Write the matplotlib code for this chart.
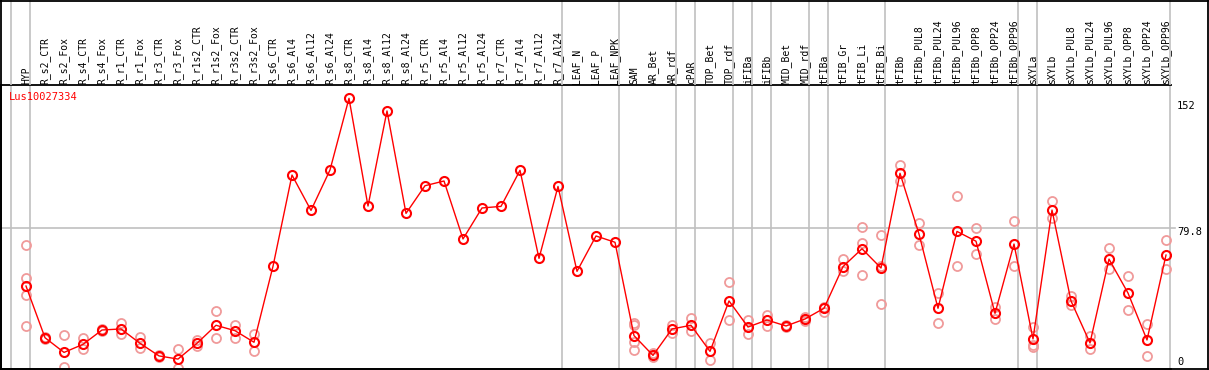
import matplotlib
matplotlib.use("Agg")
import matplotlib.pyplot as plt
from matplotlib.lines import Line2D
import matplotlib.transforms as mtransforms

# ---------------- data ----------------
gene = "Lus10027334"

categories = [
    "HYP", "R_s2_CTR", "R_s2_Fox", "R_s4_CTR", "R_s4_Fox", "R_r1_CTR", "R_r1_Fox",
    "R_r3_CTR", "R_r3_Fox", "R_r1s2_CTR", "R_r1s2_Fox", "R_r3s2_CTR", "R_r3s2_Fox",
    "R_s6_CTR", "R_s6_Al4", "R_s6_Al12", "R_s6_Al24", "R_s8_CTR", "R_s8_Al4",
    "R_s8_Al12", "R_s8_Al24", "R_r5_CTR", "R_r5_Al4", "R_r5_Al12", "R_r5_Al24",
    "R_r7_CTR", "R_r7_Al4", "R_r7_Al12", "R_r7_Al24", "LEAF_N", "LEAF_P", "LEAF_NPK",
    "SAM", "AR_Bet", "AR_rdf", "cPAR", "TOP_Bet", "TOP_rdf", "iFIBa", "iFIBb",
    "MID_Bet", "MID_rdf", "tFIBa", "tFIB_Gr", "tFIB_Li", "tFIB_Bi", "tFIBb",
    "tFIBb_PUL8", "tFIBb_PUL24", "tFIBb_PUL96", "tFIBb_OPP8", "tFIBb_OPP24",
    "tFIBb_OPP96", "sXYLa", "sXYLb", "sXYLb_PUL8", "sXYLb_PUL24", "sXYLb_PUL96",
    "sXYLb_OPP8", "sXYLb_OPP24", "sXYLb_OPP96",
]

# sizes of the sample groups separated by vertical lines
group_sizes = [1, 28, 3, 3, 1, 2, 1, 1, 2, 1, 3, 7, 1, 7]

mean_values = [
    46.8, 17.3, 8.9, 13.5, 21.7, 22.3, 14.1, 6.9, 5.1, 14.1, 24.4, 21.3, 14.7,
    58.1, 110.2, 90.0, 113.1, 154.0, 92.5, 146.8, 88.3, 104.1, 106.8, 73.7, 91.4,
    92.3, 112.9, 62.6, 103.7, 55.2, 75.4, 71.8,
    18.5, 7.2, 22.3, 24.4, 9.5, 38.3, 23.4, 27.4, 24.0, 28.0, 34.1, 57.9, 68.1,
    57.1, 111.2, 76.5, 34.1, 78.0, 72.4, 31.2, 70.8, 16.6, 90.2, 38.3, 14.3, 62.2,
    42.8, 16.0, 64.5,
]

replicates = [
    [70.2, 51.2, 41.7, 24.0],
    [17.6, 16.8],
    [18.7, 0.3],
    [17.1, 10.7],
    [22.0, 21.3],
    [25.5, 19.2],
    [17.9, 11.2],
    [7.3, 6.5],
    [10.7, 0.0],
    [16.0, 12.6],
    [32.6, 17.0],
    [24.4, 17.3],
    [19.6, 9.5],
    [], [], [], [], [], [], [], [], [], [], [], [], [], [], [], [], [], [], [],
    [25.5, 24.5, 15.0, 10.1],
    [8.3, 6.4],
    [24.4, 20.2],
    [28.4, 21.0],
    [14.1, 4.4],
    [48.9, 27.4],
    [27.4, 19.2],
    [30.3, 23.8],
    [24.6, 23.4],
    [29.3, 26.7],
    [32.2, 35.0],
    [62.2, 55.4],
    [80.3, 71.4, 52.9],
    [76.0, 58.5, 36.4],
    [115.7, 106.8],
    [82.6, 70.1],
    [42.8, 25.5],
    [98.1, 58.3],
    [79.8, 65.1],
    [34.7, 27.8],
    [84.0, 58.3],
    [23.6, 13.1, 12.2],
    [95.4, 85.5],
    [41.3, 36.0],
    [18.3, 10.7],
    [68.4, 56.5],
    [52.5, 33.1],
    [25.0, 6.9],
    [72.9, 56.4],
]

y_ticks = [152, 79.8, 0]
y_tick_labels = ["152", "79.8", "0"]

# ---------------- layout ----------------
W, H = 1209, 370
fig = plt.figure(figsize=(W / 100, H / 100), dpi=100)
fig.patch.set_facecolor("white")

px_per_unit = 1.751
x0_px, dx_px = 26.0, 19.0
xlim = ((1 - x0_px) / dx_px, (1171 - x0_px) / dx_px)
ylim = (-1 / px_per_unit, 283 / px_per_unit)

ax = fig.add_axes([1 / W, 1 / H, 1170 / W, 284 / H])
axl = fig.add_axes([1 / W, 285 / H, 1170 / W, 85 / H])
for a in (ax, axl):
    a.set_xlim(*xlim)
    a.set_xticks([])
    a.set_yticks([])
    a.patch.set_alpha(0)
ax.set_ylim(*ylim)
axl.set_ylim(0, 1)
for s in axl.spines.values():
    s.set_visible(False)
ax.spines["right"].set_visible(False)
for s in ("left", "bottom", "top"):
    ax.spines[s].set_color("black")
    ax.spines[s].set_linewidth(1.3)

grid_c = "#c0c0c0"
# vertical group separators
bounds = [-1]
acc = -1
for g in group_sizes:
    acc += g
    bounds.append(acc)
for b in bounds:
    xb = b + 4 / 19
    ax.axvline(xb, color=grid_c, lw=1.2, zorder=0)
    axl.axvline(xb, color=grid_c, lw=1.2, zorder=0)

# horizontal line at middle tick
ax.plot([xlim[0], (1175 - x0_px) / dx_px], [y_ticks[1]] * 2, color=grid_c,
        lw=1.2, clip_on=False, zorder=0)

# replicates
rep_c = "#f09a9a"
for i, reps in enumerate(replicates):
    if reps:
        ax.plot([i] * len(reps), reps, linestyle="none", marker="o", ms=6.5,
                mfc="none", mec=rep_c, mew=1.3, zorder=2, clip_on=True)

xs = list(range(len(categories)))
ax.plot(xs, mean_values, color="red", lw=1.0, marker="o", ms=6.5, mfc="none",
        mec="red", mew=1.5, zorder=3)

# category labels
mono = "DejaVu Sans Mono"
for i, c in enumerate(categories):
    axl.text(i, 0.015, c, rotation=90, ha="center", va="bottom", fontsize=7,
             family=mono, color="black")

# gene name
ax.text(0.007, 0.958, gene, transform=ax.transAxes, color="red", fontsize=7.5,
        family=mono, ha="left", va="center")

# y tick labels on the right
offsets = [-4, -4, 6]
for v, lab, off in zip(y_ticks, y_tick_labels, offsets):
    tr = mtransforms.offset_copy(ax.transData, fig=fig, x=0, y=off, units="dots")
    ax.text((1177 - x0_px) / dx_px, v, lab, transform=tr, ha="left", va="center",
            fontsize=7.5, family=mono, clip_on=False)

# outer border
def fline(xa, ya, xb, yb):
    fig.add_artist(Line2D([xa / W, xb / W], [1 - ya / H, 1 - yb / H],
                          transform=fig.transFigure, color="black", lw=1.3))

fline(1, 0, 1, 369)
fline(0, 0.5, W, 0.5)
fline(1207.5, 0, 1207.5, 369)
fline(0, 369, 1208, 369)

fig.savefig("out.png", dpi=100)
